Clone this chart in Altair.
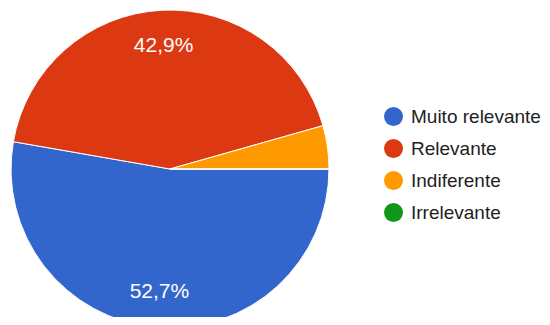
import math
import altair as alt
import pandas as pd

categories = ["Muito relevante", "Relevante", "Indiferente", "Irrelevante"]
counts = [48, 39, 4, 0]
colors = ["#3366cc", "#dc3912", "#ff9900", "#109618"]

total = sum(counts)
labels = []
for c in counts:
    p = c / total * 100
    labels.append(f"{p:.1f}%".replace(".", ",") if p >= 5 else "")

df = pd.DataFrame({
    "categoria": categories,
    "n": counts,
    "ordem": list(range(len(categories))),
    "rotulo": labels,
})

theta_scale = alt.Scale(range=[math.pi / 2, math.pi / 2 + 2 * math.pi])

base = alt.Chart(df).encode(
    theta=alt.Theta("n:Q", stack=True, scale=theta_scale),
    order=alt.Order("ordem:Q", sort="ascending"),
    x=alt.value(162),
    y=alt.value(161),
)

pie = base.mark_arc(outerRadius=159, stroke="white", strokeWidth=1).encode(
    color=alt.Color(
        "categoria:N",
        scale=alt.Scale(domain=categories, range=colors),
        sort=categories,
        legend=alt.Legend(
            title=None,
            orient="none",
            legendX=376,
            legendY=99,
            symbolType="circle",
            symbolSize=361,
            symbolStrokeWidth=0,
            labelFontSize=19,
            labelFont="Liberation Sans",
            labelColor="#222222",
            labelOffset=8,
            rowPadding=12,
            padding=0,
            labelLimit=300,
        ),
    )
)

text = base.mark_text(
    radius=123, fontSize=21, font="Liberation Sans", color="white",
    align="center", baseline="middle",
).encode(text="rotulo:N")

chart = (pie + text).properties(
    width=534, height=309, padding=0, autosize=alt.AutoSizeParams(type="none"),
).configure_view(stroke=None)

chart.save("out.html", embed_options={"renderer": "svg", "actions": False})
